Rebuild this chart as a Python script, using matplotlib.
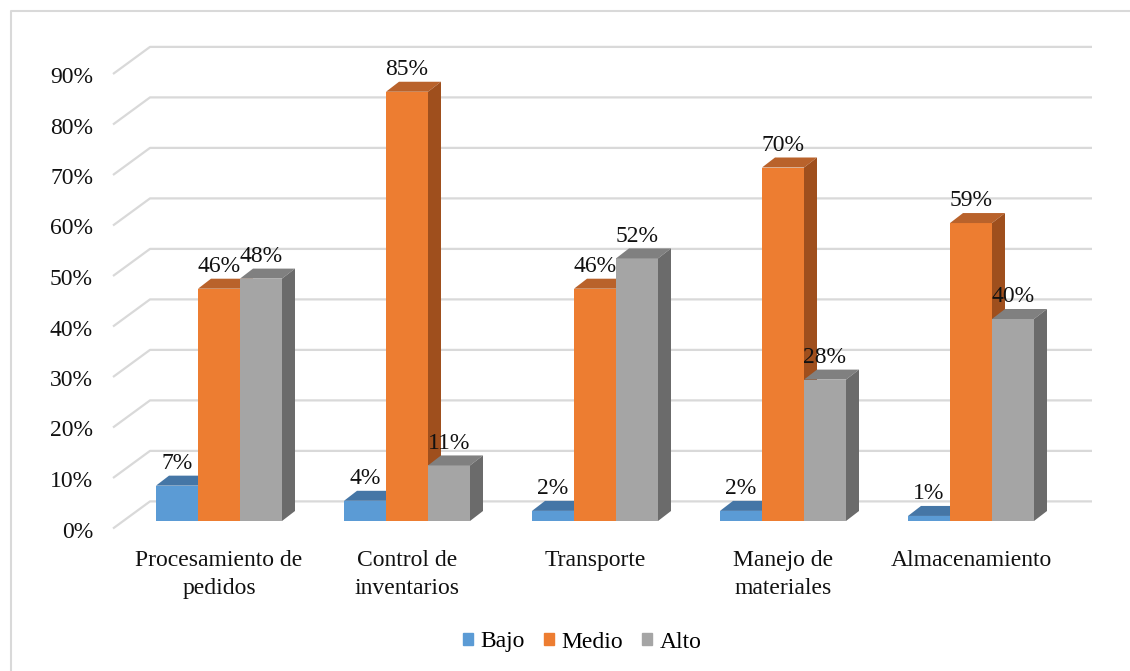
import numpy as np
import matplotlib
matplotlib.use("Agg")
import matplotlib.pyplot as plt
from matplotlib.patches import Polygon, Patch
from matplotlib.lines import Line2D
from matplotlib.transforms import ScaledTranslation

plt.rcParams['font.family'] = ['Liberation Serif', 'DejaVu Serif']

categories = ['Procesamiento de\npedidos', 'Control de\ninventarios', 'Transporte',
              'Manejo de\nmateriales', 'Almacenamiento']
series = ['Bajo', 'Medio', 'Alto']
bajo = [7, 4, 2, 2, 1]
medio = [46, 85, 46, 70, 59]
alto = [48, 11, 52, 28, 40]
yticks = [0, 10, 20, 30, 40, 50, 60, 70, 80, 90]

values = [bajo, medio, alto]
# front, top, side colours per series
colors = [('#5B9BD5', '#4576A6', '#3F6D99'),
          ('#ED7D31', '#B9622B', '#9F4F1D'),
          ('#A5A5A5', '#808080', '#6B6B6B')]

W, H, DPI = 1130, 671, 100
fig = plt.figure(figsize=(W / DPI, H / DPI), dpi=DPI)

# axes placed so the bar front plane lines up with the reference
ax_l, ax_r, ax_b, ax_t = 125, 1065, 521, 66.5
ax = fig.add_axes([ax_l / W, 1 - ax_b / H, (ax_r - ax_l) / W, (ax_b - ax_t) / H])
ax.set_xlim(-0.5, 4.5)
ax.set_ylim(0, 90)

px_x = 1.0 / 188   # data units per pixel
px_y = 1.0 / 5.05

# back wall gridlines + left diagonal
wall_dy = 19.6 * px_y
x_wall0 = -0.5 + (150 - ax_l) * px_x
x_wall1 = -0.5 + (1092 - ax_l) * px_x
x_front = -0.5 + (113 - ax_l) * px_x
y_front = -7.5 * px_y
for t in yticks:
    ax.plot([x_front, x_wall0, x_wall1], [t + y_front, t + wall_dy, t + wall_dy],
            color='#D9D9D9', lw=1.6, clip_on=False, zorder=1, solid_capstyle='butt')

# pseudo 3d bars
bw = 42 * px_x
dx, dy = 13 * px_x, 10 * px_y
z = 2
for i in range(len(categories)):
    for k in range(len(series)):
        v = values[k][i]
        front, top, side = colors[k]
        x0 = i + (k - 1) * bw - bw / 2
        x1 = x0 + bw
        ax.bar(x0, v, bw, align='edge', color=front, lw=0, zorder=z)
        ax.add_patch(Polygon([(x0, v), (x1, v), (x1 + dx, v + dy), (x0 + dx, v + dy)],
                             closed=True, color=top, lw=0, zorder=z, clip_on=False))
        ax.add_patch(Polygon([(x1, 0), (x1 + dx, dy), (x1 + dx, v + dy), (x1, v)],
                             closed=True, color=side, lw=0, zorder=z, clip_on=False))
        ax.annotate(f'{v}%', (x0 + bw / 2, v), xytext=(0, 12), textcoords='offset points',
                    ha='center', va='baseline', fontsize=17, color='#111111',
                    zorder=50, annotation_clip=False)
        z += 1

for s in ax.spines.values():
    s.set_visible(False)
ax.set_xticks(range(len(categories)))
ax.set_xticklabels(categories, fontsize=17, color='#111111', linespacing=1.4)
ax.set_yticks(yticks)
ax.set_yticklabels([f'{t}%' for t in yticks], fontsize=17, color='#111111')
ax.tick_params(axis='both', length=0)
ax.tick_params(axis='y', pad=23)
ax.tick_params(axis='x', pad=21)
off = ScaledTranslation(0, -8.5 / DPI, fig.dpi_scale_trans)
for lab in ax.get_yticklabels():
    lab.set_transform(lab.get_transform() + off)

handles = [Patch(color=c[0]) for c in colors]
fig.legend(handles, series, loc='center', bbox_to_anchor=(582 / W, 1 - 642 / H),
           ncol=3, frameon=False, fontsize=17, handlelength=0.45, handleheight=0.45,
           handletextpad=0.3, columnspacing=0.8)

# outer chart border (only left and top edges fall inside the picture)
fig.add_artist(Line2D([11 / W, 11 / W, 1.0], [0.0, 1 - 11 / H, 1 - 11 / H],
                      transform=fig.transFigure, color='#D9D9D9', lw=1.5))

fig.savefig('out.png', dpi=DPI)
